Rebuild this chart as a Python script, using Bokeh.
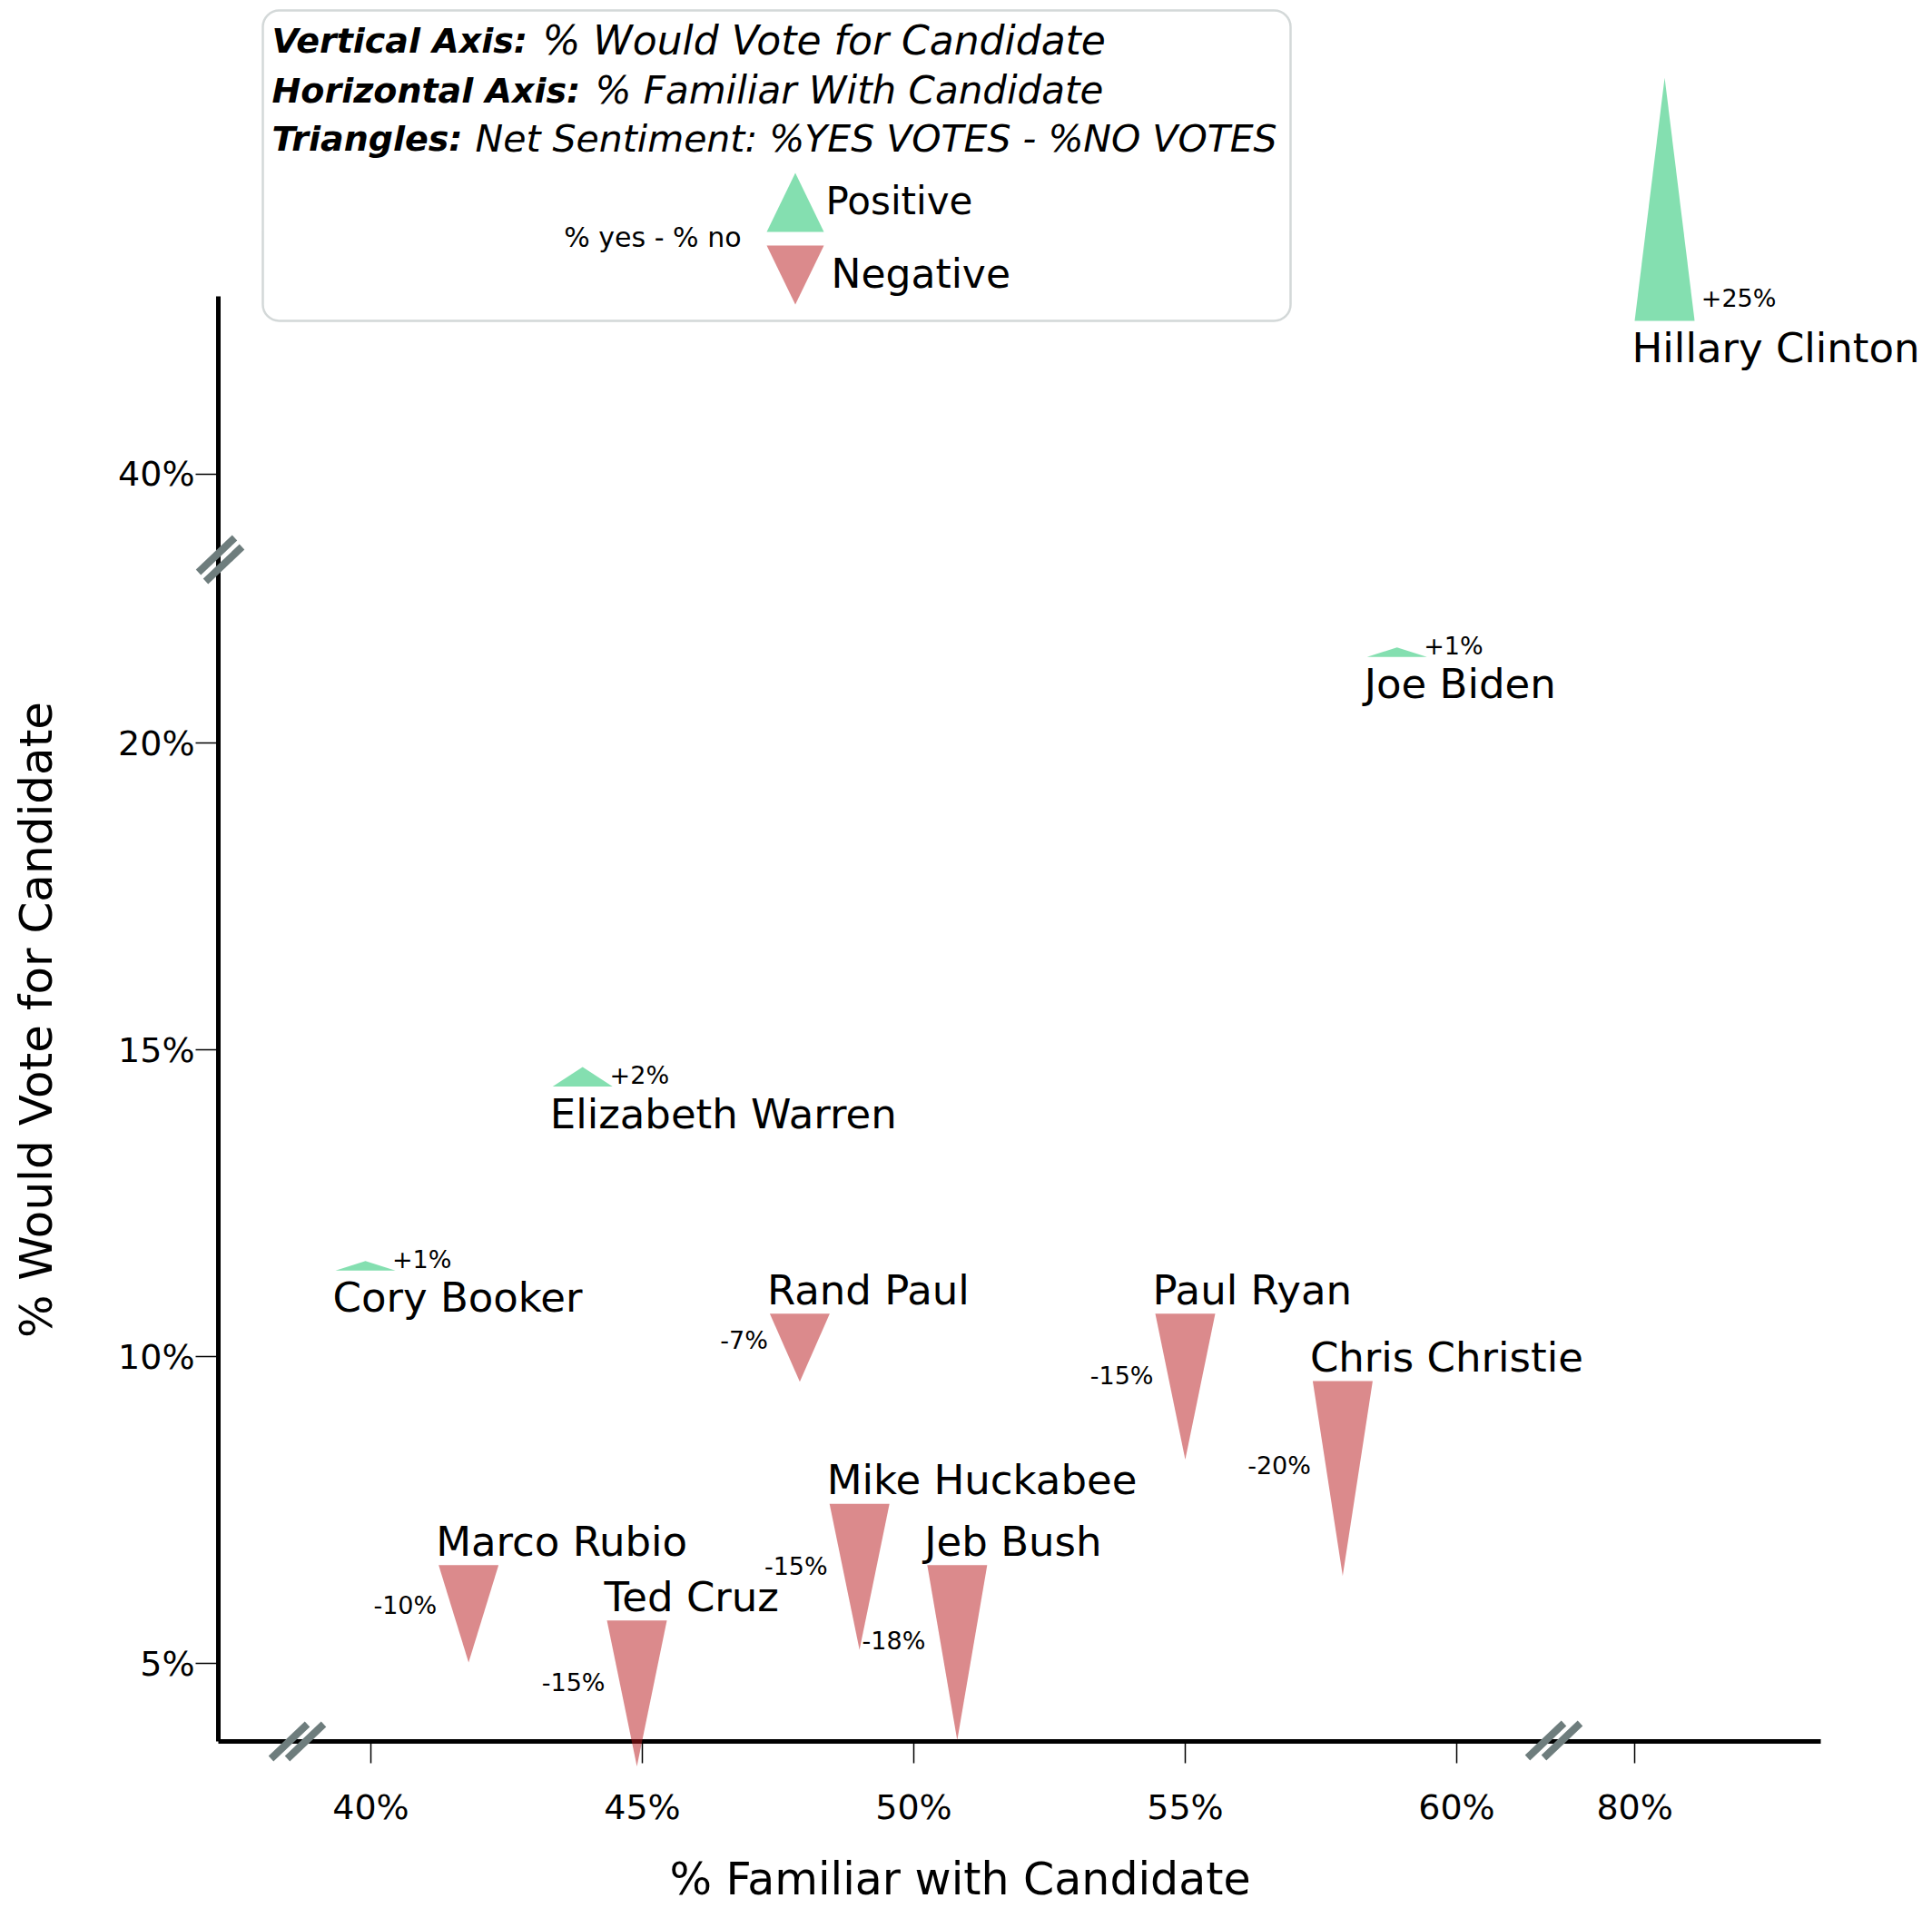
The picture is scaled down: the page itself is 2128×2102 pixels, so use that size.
import math
from bokeh.plotting import figure
from bokeh.models import FixedTicker, Label, BoxAnnotation, Arrow, ColumnDataSource
from bokeh.core.properties import value
from bokeh.embed import file_html
from bokeh.resources import INLINE

# ---------------- data ----------------
names = ["Hillary Clinton", "Joe Biden", "Elizabeth Warren", "Cory Booker", "Rand Paul",
         "Paul Ryan", "Chris Christie", "Mike Huckabee", "Jeb Bush", "Marco Rubio", "Ted Cruz"]
familiar = [80.55, 58.9, 43.9, 39.9, 47.9, 55.0, 57.9, 49.0, 50.8, 41.8, 44.9]
would_vote = [42.5, 21.4, 14.4, 11.4, 10.7, 10.7, 9.6, 7.6, 6.6, 6.6, 5.7]
net_sentiment = [25, 1, 2, 1, -7, -15, -20, -15, -18, -10, -15]

x_ticks = [40, 45, 50, 55, 60, 80]
y_ticks = [5, 10, 15, 20, 40]

# ---------------- broken-axis mapping ----------------
X_BREAK, X_SHIFT = 70, 16.72
Y_BREAK, Y_SHIFT = 30, 15.62

def vx(v):
    return v - X_SHIFT if v >= X_BREAK else v

def vy(v):
    return v - Y_SHIFT if v >= Y_BREAK else v

# ---------------- layout (frame covers the whole canvas) ----------------
W, H = 2124, 2100
PXX, PXY = 59.8, 67.6                 # pixels per percentage point
X_START = 40 - 408 / PXX
X_END = X_START + W / PXX
Y_END = 5 + 1832 / PXY
Y_START = Y_END - H / PXY

def px_x(c):
    return X_START + c / PXX

def px_y(c):
    return Y_END - c / PXY

FONT = "DejaVu Sans"
POS_COLOR = "#09BF61"
NEG_COLOR = "#B71519"
TRI_ALPHA = 0.5
GRAY = "#6E7D7D"

Y_AXIS_X = px_x(240)
X_AXIS_Y = px_y(1918)

HW = 33 / PXX          # triangle half width (data units)
K = 10.72 / PXY        # triangle height per point of net sentiment

p = figure(width=W, height=H, x_range=(X_START, X_END), y_range=(Y_START, Y_END),
           output_backend="svg", toolbar_location=None, title=None,
           min_border=0, min_border_left=0, min_border_right=0, min_border_top=0,
           min_border_bottom=0, outline_line_color=None,
           background_fill_color="white", border_fill_color="white")
p.xgrid.visible = False
p.ygrid.visible = False

xa = p.xaxis[0]
xa.fixed_location = X_AXIS_Y
xa.bounds = (Y_AXIS_X, px_x(2005))
xa.level = "underlay"
xa.ticker = FixedTicker(ticks=[vx(t) for t in x_ticks])
xa.major_label_overrides = {vx(t): f"{t}%" for t in x_ticks}
xa.axis_line_width = 5
xa.axis_line_color = "black"
xa.major_tick_in = 0
xa.major_tick_out = 24
xa.major_tick_line_width = 1.5
xa.major_tick_line_color = "black"
xa.minor_tick_line_color = None
xa.major_label_text_font = FONT
xa.major_label_text_font_size = "38px"
xa.major_label_text_color = "black"
xa.major_label_standoff = 26

ya = p.yaxis[0]
ya.fixed_location = Y_AXIS_X
ya.bounds = (X_AXIS_Y, px_y(326))
ya.level = "underlay"
ya.ticker = FixedTicker(ticks=[vy(t) for t in y_ticks])
ya.major_label_overrides = {vy(t): f"{t}%" for t in y_ticks}
ya.axis_line_width = 5
ya.axis_line_color = "black"
ya.major_tick_in = 0
ya.major_tick_out = 25
ya.major_tick_line_width = 1.5
ya.major_tick_line_color = "black"
ya.minor_tick_line_color = None
ya.major_label_text_font = FONT
ya.major_label_text_font_size = "38px"
ya.major_label_text_color = "black"
ya.major_label_standoff = 1

# ---------------- triangles ----------------
xs, ys, cols = [], [], []
for f, v, n in zip(familiar, would_vote, net_sentiment):
    cx, by = vx(f), vy(v)
    xs.append([cx - HW, cx + HW, cx])
    ys.append([by, by, by + n * K])
    cols.append(POS_COLOR if n > 0 else NEG_COLOR)
p.patches(xs="xs", ys="ys", fill_color="color", fill_alpha=TRI_ALPHA, line_color=None,
          source=ColumnDataSource(dict(xs=xs, ys=ys, color=cols)))

# names
nx, ny = [], []
for f, v, n in zip(familiar, would_vote, net_sentiment):
    nx.append(vx(f) - HW - 3 / PXX)
    ny.append(vy(v) - 30 / PXY if n > 0 else vy(v) + 26 / PXY)
p.text(x=nx, y=ny, text=names, text_font=value(FONT), text_font_size="45px",
       text_color="black", text_align="left", text_baseline="alphabetic")

# net labels
px_, py_, pt_, nx_, ny_, nt_ = [], [], [], [], [], []
for f, v, n in zip(familiar, would_vote, net_sentiment):
    if n > 0:
        px_.append(vx(f) + HW + (-4 + 0.45 * n) / PXX)
        py_.append(vy(v) + (12 + 0.5 * n) / PXY)
        pt_.append(f"+{n}%")
    else:
        nx_.append(vx(f) - HW - 2 / PXX)
        ny_.append(vy(v) + n * K * 0.46 + 5.4 / PXY)
        nt_.append(f"{n}%")
p.text(x=px_, y=py_, text=pt_, text_font=value(FONT), text_font_size="27px",
       text_color="black", text_align="left", text_baseline="alphabetic")
p.text(x=nx_, y=ny_, text=nt_, text_font=value(FONT), text_font_size="27px",
       text_color="black", text_align="right", text_baseline="alphabetic")

# ---------------- axis breaks ----------------
def break_mark(cx, cy, dx, dy):
    for sgn in (-1, 1):
        ox, oy = sgn * dx, sgn * dy
        p.add_layout(Arrow(start=None, end=None,
                           x_start=px_x(cx + ox - 20), y_start=px_y(cy + oy + 19),
                           x_end=px_x(cx + ox + 20), y_end=px_y(cy + oy - 19),
                           line_width=8, line_color=GRAY))

break_mark(242, 616, 4, 5)
break_mark(327, 1918, 9, 0)
break_mark(1711, 1917, 9, 0)

# ---------------- axis titles ----------------
p.text(x=[px_x(39)], y=[px_y(1123)], text=["% Would Vote for Candidate"], angle=math.pi / 2,
       text_font=value(FONT), text_font_size="50px", text_color="black",
       text_align="center", text_baseline="alphabetic")
p.text(x=[px_x(1057)], y=[px_y(2070)], text=["% Familiar with Candidate"],
       text_font=value(FONT), text_font_size="49px", text_color="black",
       text_align="center", text_baseline="alphabetic")

# ---------------- explanation box ----------------
box = BoxAnnotation(left=px_x(289), right=px_x(1421), top=px_y(11), bottom=px_y(353),
                    fill_alpha=0, line_color=GRAY, line_width=2.5)
try:
    box.border_radius = 18
except Exception:
    pass
p.add_layout(box)

legend_lines = [("Vertical Axis:", "% Would Vote for Candidate", 597, 44, "44px"),
                ("Horizontal Axis:", "% Familiar With Candidate", 655, 99, "42px"),
                ("Triangles:", "Net Sentiment: %YES VOTES - %NO VOTES", 523, 152, "41px")]
for bold, rest, rx, base, fs in legend_lines:
    p.add_layout(Label(x=px_x(299), y=px_y(base), text=bold, text_font=FONT,
                       text_font_size="38px", text_font_style="bold italic",
                       text_color="black", text_baseline="alphabetic"))
    p.add_layout(Label(x=px_x(rx), y=px_y(base), text=rest, text_font=FONT,
                       text_font_size=fs, text_font_style="italic",
                       text_color="black", text_baseline="alphabetic"))

p.patches(xs=[[px_x(844), px_x(907), px_x(875.5)], [px_x(844), px_x(907), px_x(875.5)]],
          ys=[[px_y(255), px_y(255), px_y(190)], [px_y(270), px_y(270), px_y(335)]],
          fill_color=[POS_COLOR, NEG_COLOR], fill_alpha=TRI_ALPHA, line_color=None)
p.add_layout(Label(x=px_x(816), y=px_y(261), text="% yes - % no", text_font=FONT,
                   text_font_size="30px", text_color="black", text_align="right",
                   text_baseline="alphabetic"))
p.add_layout(Label(x=px_x(909), y=px_y(221), text="Positive", text_font=FONT,
                   text_font_size="42px", text_color="black", text_baseline="alphabetic"))
p.add_layout(Label(x=px_x(915), y=px_y(301), text="Negative", text_font=FONT,
                   text_font_size="44px", text_color="black", text_baseline="alphabetic"))

open("out.html", "w").write(file_html(p, INLINE))
